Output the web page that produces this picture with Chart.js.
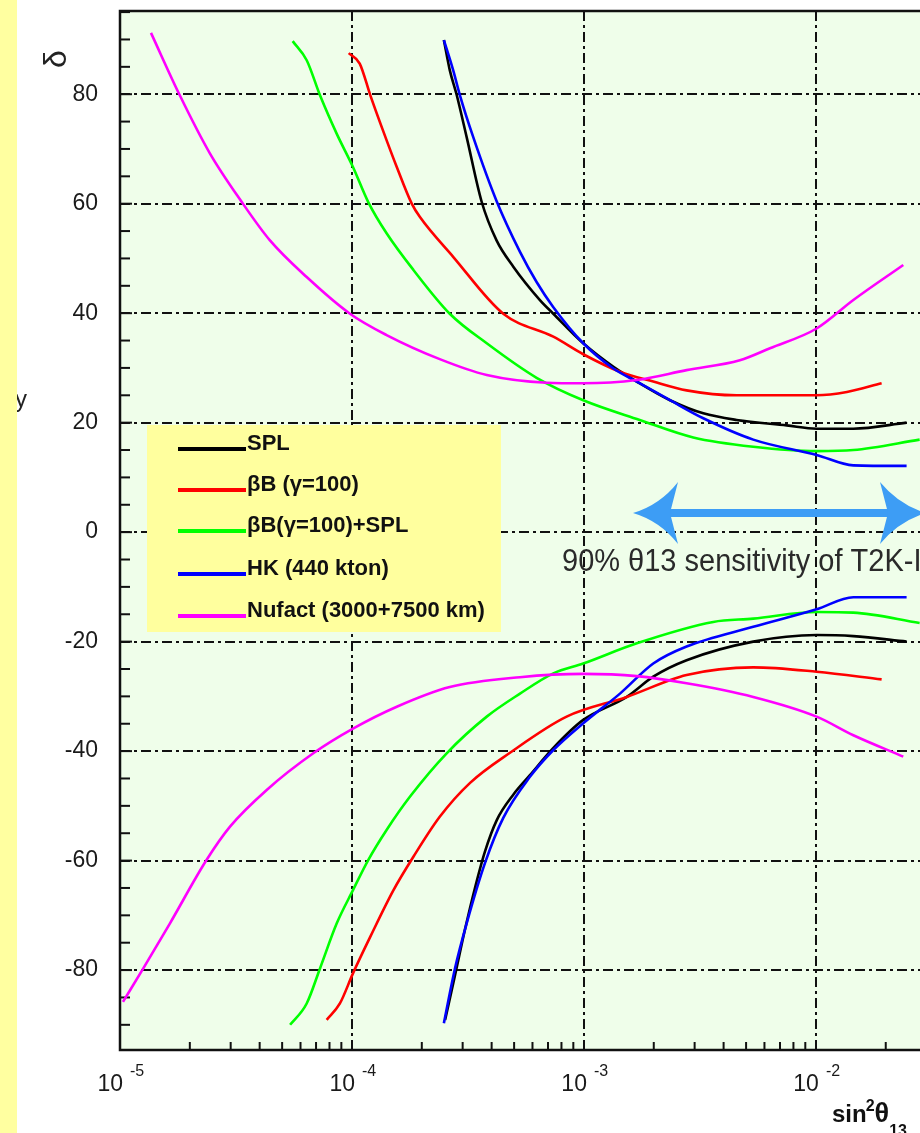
<!DOCTYPE html>
<html>
<head>
<meta charset="utf-8">
<script src="https://cdn.jsdelivr.net/npm/chart.js@4/dist/chart.umd.min.js"></script>
<style>
    html, body { margin: 0; padding: 0; background: #fff; overflow: hidden; }
    #wrap { position: relative; width: 920px; height: 1133px; }
</style>
</head>
<body>
<div id="wrap"><canvas id="c" width="920" height="1133"></canvas></div>
<script>
// sin^2(theta13) values and delta (deg) values
const splUpX = [2.49e-4, 2.64e-4, 2.83e-4, 3.12e-4, 3.62e-4, 4.2e-4, 4.96e-4, 6.46e-4, 7.38e-4, 9.93e-4, 1.34e-3, 1.69e-3, 2.35e-3, 3.27e-3, 4.55e-3, 7.48e-3, 1.007e-2, 1.45e-2, 2.46e-2];
const splUpD = [89.9, 84.4, 79.8, 72.2, 60.4, 53.3, 48.5, 42.4, 39.9, 34.5, 30.2, 27.5, 24.1, 21.7, 20.5, 19.5, 18.9, 18.9, 20.0];
const splLoX = [2.52e-4, 2.78e-4, 3.07e-4, 3.39e-4, 3.74e-4, 4.21e-4, 4.95e-4, 5.85e-4, 7.35e-4, 9.93e-4, 1.53e-3, 1.99e-3, 2.77e-3, 5.37e-3, 1.007e-2, 1.45e-2, 2.46e-2];
const splLoD = [-89.1, -81.0, -72.6, -65.0, -58.4, -52.6, -48.0, -44.4, -39.5, -34.3, -30.1, -26.4, -23.4, -20.0, -18.8, -19.0, -20.0];

const bbUpX = [9.68e-5, 1.08e-4, 1.2e-4, 1.36e-4, 1.56e-4, 1.81e-4, 1.96e-4, 2.73e-4, 4.49e-4, 7.38e-4, 9.93e-4, 1.43e-3, 1.99e-3, 2.77e-3, 4.55e-3, 1.007e-2, 1.36e-2, 1.92e-2];
const bbUpD = [87.5, 85.6, 79.8, 73.4, 66.7, 60.0, 57.6, 50.3, 39.9, 35.7, 32.5, 29.3, 27.5, 25.9, 25.0, 25.0, 25.6, 27.2];
const bbLoX = [7.78e-5, 8.87e-5, 1.01e-4, 1.2e-4, 1.51e-4, 1.84e-4, 2.39e-4, 3.23e-4, 4.8e-4, 8.42e-4, 1.53e-3, 2.77e-3, 5.37e-3, 1.007e-2, 1.92e-2];
const bbLoD = [-89.1, -86.1, -80.6, -73.9, -65.4, -59.3, -52.0, -45.8, -40.3, -33.7, -30.1, -26.1, -24.7, -25.5, -26.9];

const bbsplUpX = [5.55e-5, 6.38e-5, 7.28e-5, 8.59e-5, 1.01e-4, 1.175e-4, 1.41e-4, 1.84e-4, 2.64e-4, 3.81e-4, 6.25e-4, 9.93e-4, 1.74e-3, 2.96e-3, 5.37e-3, 1.007e-2, 1.45e-2, 2.8e-2];
const bbsplUpD = [89.7, 86.2, 79.8, 72.8, 66.7, 60.3, 54.6, 47.9, 39.9, 34.5, 28.2, 24.1, 20.5, 17.3, 15.6, 14.8, 15.0, 16.9];
const bbsplLoX = [5.41e-5, 6.38e-5, 7.28e-5, 8.59e-5, 1.01e-4, 1.175e-4, 1.41e-4, 1.78e-4, 2.56e-4, 3.81e-4, 5.3e-4, 7.38e-4, 9.93e-4, 1.69e-3, 3.61e-3, 5.37e-3, 1.007e-2, 1.45e-2, 2.8e-2];
const bbsplLoD = [-90.0, -86.1, -79.7, -71.5, -65.4, -59.9, -54.4, -48.3, -40.4, -33.7, -29.5, -25.8, -24.0, -20.3, -16.4, -15.8, -14.6, -14.7, -16.6];

const hkUpX = [2.49e-4, 2.73e-4, 2.92e-4, 3.33e-4, 4.2e-4, 5.3e-4, 6.25e-4, 7.38e-4, 9.93e-4, 1.34e-3, 1.69e-3, 2.35e-3, 3.27e-3, 5.37e-3, 1.007e-2, 1.45e-2, 2.46e-2];
const hkUpD = [89.9, 84.4, 79.8, 72.2, 60.5, 51.2, 45.7, 41.1, 34.5, 29.9, 27.5, 24.1, 20.8, 16.9, 14.1, 12.2, 12.1];
const hkLoX = [2.49e-4, 2.78e-4, 3.12e-4, 3.74e-4, 4.49e-4, 5.85e-4, 7.38e-4, 9.93e-4, 1.43e-3, 1.99e-3, 2.77e-3, 5.37e-3, 1.007e-2, 1.45e-2, 2.46e-2];
const hkLoD = [-89.7, -79.7, -71.5, -60.5, -52.2, -44.7, -39.8, -34.9, -29.5, -24.0, -20.9, -17.3, -14.1, -11.9, -11.9];

const nufUpX = [1.36e-5, 1.81e-5, 2.44e-5, 3.35e-5, 4.43e-5, 6.38e-5, 9.8e-5, 1.41e-4, 2.39e-4, 3.81e-4, 6.9e-4, 9.93e-4, 1.69e-3, 2.77e-3, 4.7e-3, 6.34e-3, 1.007e-2, 1.45e-2, 2.38e-2];
const nufUpD = [91.2, 79.8, 69.2, 60.3, 53.3, 46.6, 39.9, 36.0, 31.6, 28.7, 27.3, 27.2, 27.8, 29.6, 31.4, 33.6, 37.2, 42.4, 48.8];
const nufLoX = [1.03e-5, 1.26e-5, 1.64e-5, 2.36e-5, 2.98e-5, 4.29e-5, 6.81e-5, 1.01e-4, 1.56e-4, 2.64e-4, 5.3e-4, 9.93e-4, 1.69e-3, 2.77e-3, 5.37e-3, 1.007e-2, 1.45e-2, 2.38e-2];
const nufLoD = [-85.8, -79.7, -71.5, -59.9, -53.8, -47.1, -40.4, -35.9, -31.9, -28.3, -26.5, -25.9, -26.3, -27.6, -30.1, -33.7, -37.1, -41.0];

const seriesNames = ['SPL', 'βB (γ=100)', 'βB(γ=100)+SPL', 'HK (440 kton)', 'Nufact (3000+7500 km)'];
const seriesColors = ['#000000', '#ff0000', '#00ff00', '#0000ff', '#ff00ff'];
const xTickExps = [-5, -4, -3, -2];
const xMin = 1e-5, xMax = 0.0281;
const yMin = -94.6, yMax = 95.2;

const FONT = '"Liberation Sans", Arial, Helvetica, sans-serif';
const pts = (xs, ds) => xs.map((x, i) => ({x: x, y: ds[i]}));

const curves = [
    [4, nufUpX, nufUpD], [4, nufLoX, nufLoD],
    [3, hkUpX, hkUpD], [3, hkLoX, hkLoD],
    [2, bbsplUpX, bbsplUpD], [2, bbsplLoX, bbsplLoD],
    [1, bbUpX, bbUpD], [1, bbLoX, bbLoD],
    [0, splUpX, splUpD], [0, splLoX, splLoD],
];

const datasets = curves.map(([s, xs, ds]) => ({
    label: seriesNames[s],
    data: pts(xs, ds),
    borderColor: seriesColors[s],
    borderWidth: 2.6,
    pointRadius: 0,
    showLine: true,
    cubicInterpolationMode: 'monotone',
}));

const isPow10 = v => Math.abs(Math.log10(v) - Math.round(Math.log10(v))) < 1e-6;

const deco = {
    id: 'deco',
    beforeDraw(chart) {
        const {ctx, chartArea: a} = chart;
        ctx.save();
        ctx.fillStyle = '#ffffff';
        ctx.fillRect(0, 0, chart.width, chart.height);
        ctx.fillStyle = '#effeea';
        ctx.fillRect(a.left, a.top, a.right - a.left, a.bottom - a.top);
        // stray letter left of the axis
        ctx.fillStyle = '#222';
        ctx.font = '24px ' + FONT;
        ctx.fillText('y', 15, 407);
        ctx.fillStyle = '#ffffa0';
        ctx.fillRect(0, 0, 17, chart.height);
        ctx.restore();
    },
    beforeDatasetsDraw(chart) {
        const {ctx, chartArea: a} = chart;
        const xs = chart.scales.x, ys = chart.scales.y;
        ctx.save();
        ctx.strokeStyle = '#111';
        ctx.lineWidth = 2;
        // inner y ticks every 5
        for (let v = -90; v <= 95; v += 5) {
            const py = ys.getPixelForValue(v);
            ctx.beginPath();
            ctx.moveTo(a.left, py);
            ctx.lineTo(a.left + (v % 20 === 0 ? 12 : 10), py);
            ctx.stroke();
        }
        // inner x minor ticks
        xTickExps.forEach(e => {
            for (let k = 2; k <= 9; k++) {
                const v = k * Math.pow(10, e);
                if (v > xMax) continue;
                const px = xs.getPixelForValue(v);
                ctx.beginPath();
                ctx.moveTo(px, a.bottom);
                ctx.lineTo(px, a.bottom - 8);
                ctx.stroke();
            }
        });
        // legend
        ctx.fillStyle = '#ffff9e';
        ctx.fillRect(147, 425, 354, 207);
        const rows = [449, 490, 531, 574, 616];
        ctx.font = 'bold 22px ' + FONT;
        ctx.textAlign = 'left';
        ctx.textBaseline = 'alphabetic';
        seriesNames.forEach((n, i) => {
            ctx.strokeStyle = seriesColors[i];
            ctx.lineWidth = 4;
            ctx.beginPath();
            ctx.moveTo(178, rows[i]);
            ctx.lineTo(246, rows[i]);
            ctx.stroke();
            ctx.fillStyle = '#111';
            ctx.fillText(n, 247, rows[i] + 1);
        });
        ctx.restore();
    },
    afterDatasetsDraw(chart) {
        const {ctx, chartArea: a} = chart;
        const xs = chart.scales.x;
        ctx.save();
        // frame
        ctx.strokeStyle = '#111';
        ctx.lineWidth = 2.5;
        ctx.beginPath();
        ctx.moveTo(a.right + 2, a.top);
        ctx.lineTo(a.left, a.top);
        ctx.lineTo(a.left, a.bottom);
        ctx.lineTo(a.right + 2, a.bottom);
        ctx.stroke();

        // double arrow
        ctx.fillStyle = '#3d9df5';
        ctx.strokeStyle = '#3d9df5';
        ctx.lineWidth = 8;
        ctx.beginPath();
        ctx.moveTo(665, 513);
        ctx.lineTo(895, 513);
        ctx.stroke();
        ctx.beginPath();
        ctx.moveTo(633, 513);
        ctx.quadraticCurveTo(660, 505, 678, 482);
        ctx.lineTo(670, 513);
        ctx.lineTo(678, 544);
        ctx.quadraticCurveTo(660, 521, 633, 513);
        ctx.fill();
        ctx.beginPath();
        ctx.moveTo(926, 513);
        ctx.quadraticCurveTo(899, 505, 880, 482);
        ctx.lineTo(888, 513);
        ctx.lineTo(880, 544);
        ctx.quadraticCurveTo(899, 521, 926, 513);
        ctx.fill();

        // annotation
        ctx.save();
        ctx.fillStyle = '#2a2a2a';
        ctx.font = '29px ' + FONT;
        ctx.translate(562, 571);
        ctx.scale(1, 1.1);
        ctx.fillText('90% θ13 sensitivity of T2K-I', 0, 0);
        ctx.restore();

        // x tick labels 10^n
        ctx.fillStyle = '#1a1a1a';
        xTickExps.forEach(e => {
            const px = xs.getPixelForValue(Math.pow(10, e));
            ctx.font = '23px ' + FONT;
            ctx.textAlign = 'right';
            ctx.fillText('10', px + 3, 1091);
            ctx.font = '16px ' + FONT;
            ctx.textAlign = 'left';
            ctx.fillText('-' + Math.abs(e), px + 10, 1076);
        });

        // x axis title
        ctx.fillStyle = '#111';
        ctx.textAlign = 'left';
        let tx = 832;
        ctx.font = 'bold 24px ' + FONT;
        ctx.fillText('sin', tx, 1122);
        tx += ctx.measureText('sin').width;
        ctx.font = 'bold 16px ' + FONT;
        ctx.fillText('2', tx - 1, 1111);
        tx += ctx.measureText('2').width - 1;
        ctx.font = 'bold 27px ' + FONT;
        ctx.fillText('θ', tx, 1122);
        tx += ctx.measureText('θ').width;
        ctx.font = 'bold 16px ' + FONT;
        ctx.fillText('13', tx, 1136);

        // y axis title
        ctx.translate(57, 59);
        ctx.rotate(-Math.PI / 2);
        ctx.font = '32px ' + FONT;
        ctx.textAlign = 'center';
        ctx.textBaseline = 'middle';
        ctx.fillStyle = '#222';
        ctx.fillText('δ', 0, 0);
        ctx.restore();
    }
};

new Chart(document.getElementById('c'), {
    type: 'scatter',
    data: {datasets: datasets},
    options: {
        responsive: false,
        animation: false,
        layout: {padding: {top: 11, left: 0, right: 0, bottom: 0}},
        plugins: {legend: {display: false}, tooltip: {enabled: false}},
        scales: {
            x: {
                type: 'logarithmic',
                min: xMin,
                max: xMax,
                ticks: {display: false},
                grid: {
                    drawTicks: false,
                    lineWidth: 2,
                    color: c => (c.tick && isPow10(c.tick.value)) ? '#111' : 'rgba(0,0,0,0)',
                },
                border: {display: false, dash: [10, 4, 3, 4]},
                afterFit: s => { s.height = 83; s.paddingLeft = 0; s.paddingRight = 0; },
            },
            y: {
                type: 'linear',
                min: yMin,
                max: yMax,
                ticks: {
                    stepSize: 20,
                    includeBounds: false,
                    padding: 22,
                    color: '#1a1a1a',
                    font: {family: FONT, size: 23},
                },
                grid: {drawTicks: false, lineWidth: 2, color: '#111'},
                border: {display: false, dash: [10, 4, 3, 4]},
                afterFit: s => { s.width = 120; s.paddingTop = 0; s.paddingBottom = 0; },
            },
        },
    },
    plugins: [deco],
});
</script>
</body>
</html>
